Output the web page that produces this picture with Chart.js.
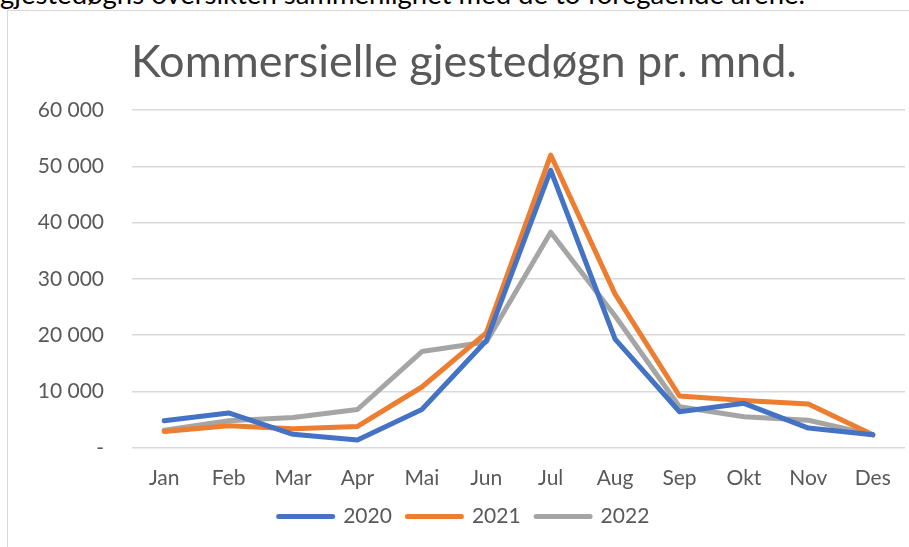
<!DOCTYPE html>
<html>
<head>
<meta charset="utf-8">
<script src="https://cdn.jsdelivr.net/npm/chart.js@4.4.1/dist/chart.umd.min.js"></script>
<style>
  html, body { margin: 0; padding: 0; background: #fff; overflow: hidden; }
  body { width: 909px; height: 547px; position: relative; }
  #intro {
    position: absolute; left: 0; top: -23px;
    font: 27.5px/1.2 Lato, sans-serif; color: #000; white-space: nowrap;
  }
  #frame {
    position: absolute; left: 7px; top: 10px; width: 902px; height: 537px;
    border-left: 1.5px solid #d9d9d9; border-top: 1.5px solid #d9d9d9;
    box-sizing: border-box; background: #fff;
  }
  #wrap { position: absolute; left: 1px; top: 1px; width: 900px; height: 535px; }
</style>
</head>
<body>
<div id="intro">gjestedøgns oversikten sammenlignet med de to foregående årene.</div>
<div id="frame">
  <div id="wrap"><canvas id="chart"></canvas></div>
</div>
<script>
// Months
const months = ['Jan', 'Feb', 'Mar', 'Apr', 'Mai', 'Jun', 'Jul', 'Aug', 'Sep', 'Okt', 'Nov', 'Des'];

// Guest nights per month
const values2020 = [4800, 6200, 2400, 1400, 6800, 19000, 49300, 19300, 6400, 7900, 3500, 2300];
const values2021 = [2900, 3900, 3400, 3800, 10800, 20400, 52000, 27300, 9200, 8400, 7800, 2300];
const values2022 = [3100, 4800, 5400, 6800, 17100, 18800, 38300, 23400, 7300, 5500, 4900, 2300];

const yTicks = [0, 10000, 20000, 30000, 40000, 50000, 60000];

const textColor = '#595959';
const fontFamily = 'Lato, sans-serif';

function fmt(v) {
  if (v === 0) return '-';
  return String(v).replace(/\B(?=(\d{3})+(?!\d))/g, ' ');
}

function series(label, data, color) {
  return {
    label: label,
    data: data,
    borderColor: color,
    backgroundColor: color,
    borderWidth: 5,
    borderCapStyle: 'round',
    borderJoinStyle: 'round',
    pointRadius: 0,
    tension: 0
  };
}

const ctx = document.getElementById('chart').getContext('2d');
new Chart(ctx, {
  type: 'line',
  data: {
    labels: months,
    datasets: [
      series('2020', values2020, '#4472c4'),
      series('2021', values2021, '#ed7d31'),
      series('2022', values2022, '#a5a5a5')
    ]
  },
  options: {
    responsive: true,
    maintainAspectRatio: false,
    animation: false,
    layout: { padding: { left: 14, right: 4, top: 0, bottom: 10 } },
    plugins: {
      title: {
        display: true,
        text: 'Kommersielle gjestedøgn pr. mnd.',
        color: textColor,
        font: { family: fontFamily, size: 45, weight: 'normal' },
        padding: { top: 23, bottom: 21 }
      },
      legend: {
        position: 'bottom',
        labels: {
          color: textColor,
          font: { family: fontFamily, size: 21 },
          boxWidth: 54,
          boxHeight: 0,
          padding: 5,
          // a bit more room between the entries, like the original
          generateLabels: (chart) => {
            const items = Chart.defaults.plugins.legend.labels.generateLabels(chart);
            items.forEach((item, i) => {
              if (i < items.length - 1) item.text += '\u2002';
            });
            return items;
          }
        }
      },
      tooltip: { enabled: false }
    },
    scales: {
      x: {
        offset: true,
        grid: { display: false },
        border: { display: false },
        ticks: {
          color: textColor,
          font: { family: fontFamily, size: 21 },
          padding: 10,
          maxRotation: 0
        }
      },
      y: {
        min: 0,
        max: 60000,
        afterFit: (scale) => { scale.width = 109; },
        afterBuildTicks: (scale) => { scale.ticks = yTicks.map(v => ({ value: v })); },
        grid: { color: '#d9d9d9', lineWidth: 1.5, drawTicks: false },
        border: { display: false },
        ticks: {
          color: textColor,
          font: { family: fontFamily, size: 21 },
          padding: 28,
          callback: (v) => fmt(v)
        }
      }
    }
  }
});
</script>
</body>
</html>
